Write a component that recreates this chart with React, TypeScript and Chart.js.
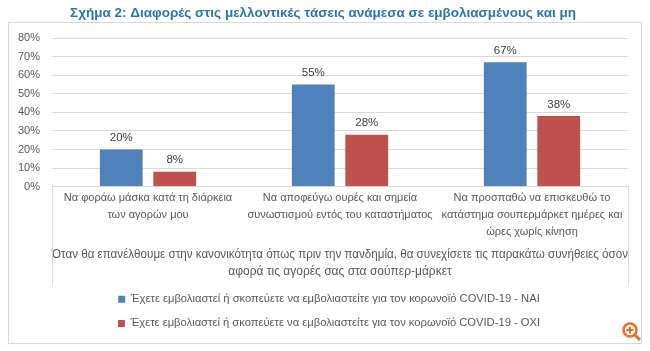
import React, { useEffect, useRef } from 'react';
import { Chart, registerables } from 'chart.js';

Chart.register(...registerables);

const chartTitle = 'Σχήμα 2: Διαφορές στις μελλοντικές τάσεις ανάμεσα σε εμβολιασμένους και μη';
const categories: string[][] = [
  ['Να φοράω μάσκα κατά τη διάρκεια', 'των αγορών μου'],
  ['Να αποφεύγω ουρές και σημεία', 'συνωστισμού εντός του καταστήματος'],
  ['Να προσπαθώ να επισκευθώ το', 'κατάστημα σουπερμάρκετ ημέρες και', 'ώρες χωρίς κίνηση'],
];
const axisTitle = [
  'Όταν θα επανέλθουμε στην κανονικότητα όπως πριν την πανδημία, θα συνεχίσετε τις παρακάτω συνήθειες όσον',
  'αφορά τις αγορές σας στα σούπερ-μάρκετ',
];
const seriesYesName = 'Έχετε εμβολιαστεί ή σκοπεύετε να εμβολιαστείτε για τον κορωνοϊό COVID-19 - ΝΑΙ';
const seriesNoName = 'Έχετε εμβολιαστεί ή σκοπεύετε να εμβολιαστείτε για τον κορωνοϊό COVID-19 - ΟΧΙ';
const yesValues = [20, 55, 67];
const noValues = [8, 28, 38];
const yMin = 0;
const yMax = 80;
const yStep = 10;

const FONT = "'Liberation Sans', Arial, sans-serif";

const shiftBlocks = {
  id: 'shiftBlocks',
  afterLayout(chart: any) {
    if (chart.legend) {
      chart.legend.left += 12;
      chart.legend.right += 12;
    }
    if (chart.titleBlock) {
      chart.titleBlock.left += 6;
      chart.titleBlock.right += 6;
    }
  },
};

const frame = {
  id: 'frame',
  beforeDraw(chart: any) {
    const { ctx, width, height } = chart;
    ctx.save();
    ctx.fillStyle = '#ffffff';
    ctx.fillRect(0, 0, width, height);
    ctx.strokeStyle = '#D9D9D9';
    ctx.lineWidth = 1;
    ctx.strokeRect(8.5, 22.5, width - 17, height - 30);
    ctx.restore();
  },
  afterDraw(chart: any) {
    const { ctx, chartArea } = chart;
    const xs = chart.scales.x;
    ctx.save();
    ctx.strokeStyle = '#D9D9D9';
    ctx.lineWidth = 1;
    ctx.beginPath();
    const l = Math.round(chartArea.left) + 0.5;
    const r = Math.round(chartArea.right) + 0.5;
    ctx.moveTo(l, chartArea.bottom);
    ctx.lineTo(l, xs.bottom + 4);
    ctx.moveTo(r, chartArea.bottom);
    ctx.lineTo(r, xs.bottom + 4);
    ctx.stroke();
    // zoom icon
    const cx = chart.width - 20, cy = chart.height - 21;
    ctx.strokeStyle = '#F26B21';
    ctx.lineWidth = 2.5;
    ctx.beginPath();
    ctx.arc(cx, cy, 6.5, 0, Math.PI * 2);
    ctx.stroke();
    ctx.lineWidth = 3;
    ctx.beginPath();
    ctx.moveTo(cx + 5, cy + 5);
    ctx.lineTo(cx + 10, cy + 10);
    ctx.stroke();
    ctx.lineWidth = 2;
    ctx.beginPath();
    ctx.moveTo(cx - 3.5, cy);
    ctx.lineTo(cx + 3.5, cy);
    ctx.moveTo(cx, cy - 3.5);
    ctx.lineTo(cx, cy + 3.5);
    ctx.stroke();
    ctx.restore();
  },
};

const dataLabels = {
  id: 'dataLabels',
  afterDatasetsDraw(chart: any) {
    const { ctx } = chart;
    ctx.save();
    ctx.font = `11.5px ${FONT}`;
    ctx.fillStyle = '#404040';
    ctx.textAlign = 'center';
    ctx.textBaseline = 'bottom';
    chart.data.datasets.forEach((ds: any, i: number) => {
      const meta = chart.getDatasetMeta(i);
      meta.data.forEach((el: any, j: number) => {
        ctx.fillText(`${ds.data[j]}%`, el.x, el.y - 6);
      });
    });
    ctx.restore();
  },
};

export default function App() {
  const ref = useRef<HTMLCanvasElement>(null);
  useEffect(() => {
    if (!ref.current) return;
    const chart = new Chart(ref.current, {
      type: 'bar',
      data: {
        labels: categories,
        datasets: [
          { label: seriesYesName, data: yesValues, backgroundColor: '#4F81BD', categoryPercentage: 0.557, barPercentage: 0.8 },
          { label: seriesNoName, data: noValues, backgroundColor: '#C0504D', categoryPercentage: 0.557, barPercentage: 0.8 },
        ],
      },
      options: {
        responsive: false,
        animation: false,
        layout: { padding: { left: 6, right: 22, top: 0, bottom: 12 } },
        plugins: {
          title: {
            display: true,
            text: chartTitle,
            color: '#2E74B5',
            font: { family: FONT, size: 13.5, weight: 'bold' },
            padding: { top: 5, bottom: 17 },
          },
          legend: {
            position: 'bottom',
            labels: {
              boxWidth: 7,
              boxHeight: 7,
              padding: 13,
              color: '#595959',
              font: { family: FONT, size: 11.2 },
            },
          },
          tooltip: { enabled: false },
        },
        scales: {
          x: {
            grid: { display: false, drawTicks: false },
            border: { display: true, color: '#D9D9D9' },
            ticks: {
              color: '#595959',
              font: { family: FONT, size: 11, lineHeight: 1.55 },
              padding: 3,
              maxRotation: 0,
              minRotation: 0,
              autoSkip: false,
            },
            title: {
              display: true,
              text: axisTitle,
              color: '#595959',
              font: { family: FONT, size: 12, lineHeight: 1.42 },
              padding: { top: 4, bottom: 0 },
            },
            afterFit(scale: any) {
              scale.height = 94;
            },
          },
          y: {
            min: yMin,
            max: yMax,
            grid: { color: '#D9D9D9', drawTicks: false },
            border: { display: false },
            ticks: {
              stepSize: yStep,
              color: '#595959',
              padding: 12,
              font: { family: FONT, size: 11 },
              callback: (v: any) => `${v}%`,
            },
          },
        },
      },
      plugins: [shiftBlocks, frame, dataLabels],
    });
    return () => chart.destroy();
  }, []);
  return (
    <div style={{ position: 'absolute', left: 0, top: 0, width: 650, height: 351 }}>
      <canvas ref={ref} width={650} height={351} />
    </div>
  );
}
